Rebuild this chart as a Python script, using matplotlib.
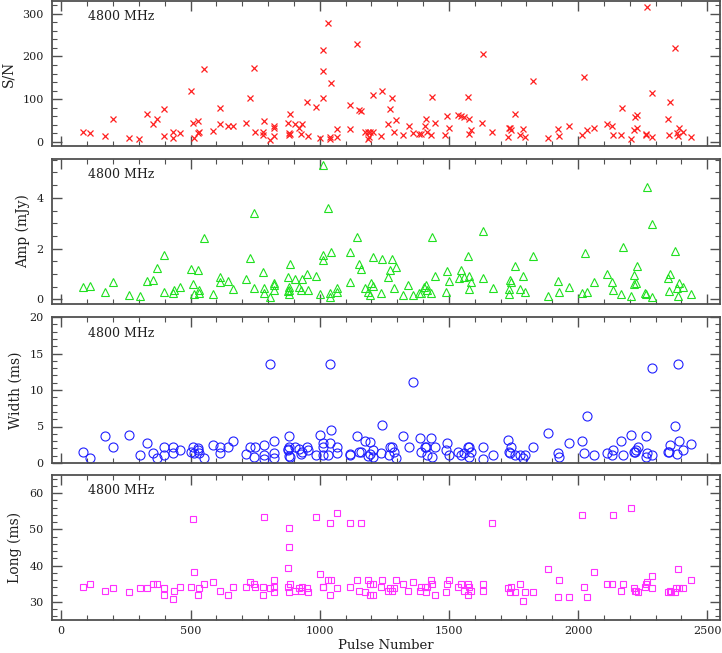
import matplotlib
matplotlib.use('Agg')
import matplotlib.pyplot as plt
from matplotlib.ticker import MultipleLocator

plt.rcParams['font.family'] = ['DejaVu Serif']

# S/N of each pulse
snr_pulse = [83, 111, 170, 199, 262, 302, 333, 355, 372, 396, 396, 432, 432, 461,
             501, 508, 514, 530, 529, 533, 552, 588, 616, 616, 647, 665, 714, 729,
             745, 750, 783, 782, 782, 807, 823, 825, 825, 876, 880, 881, 884, 884,
             906, 920, 932, 929, 949, 954, 986, 1003, 1011, 1011, 1011, 1031, 1043,
             1039, 1041, 1067, 1066, 1118, 1119, 1146, 1152, 1158,
             1177, 1187, 1196, 1205, 1190, 1187, 1205,
             1239, 1241, 1266, 1272, 1280, 1289, 1295, 1324, 1344, 1360, 1385, 1391,
             1407, 1411, 1415, 1431, 1436, 1445, 1485, 1492, 1500, 1537, 1545, 1558,
             1576, 1575, 1576, 1587, 1630, 1627, 1667, 1730, 1732, 1737, 1739, 1754,
             1775, 1786, 1794, 1825, 1883, 1921, 1927, 1964, 2016, 2022, 2035, 2061,
             2110, 2132, 2136, 2164, 2171, 2205, 2217, 2220, 2226, 2229, 2261, 2264,
             2265, 2284, 2286, 2347, 2353, 2355, 2373, 2384, 2386, 2391, 2404, 2435]
snr = [24, 21, 12.5, 53, 8.6, 6, 64, 41, 53, 77, 13, 23, 9, 21,
       119, 45, 9, 48, 20, 23, 170, 26, 80, 41, 36, 36, 44, 103,
       172, 24, 48, 22, 16, 5, 36, 32, 12.5, 45, 20, 15, 65, 19,
       41, 32, 41, 19, 93, 13, 82, 8, 216, 166, 102, 278, 137,
       10, 7, 30, 12, 30, 86, 230, 75, 73,
       24, 24, 24, 24, 11, 6, 110,
       12.5, 120, 42, 77, 103, 24, 52, 15, 36, 20, 19, 19,
       36, 53, 23, 16, 105, 45, 15, 60, 33, 63, 60, 57,
       54, 106, 19, 28, 205, 44, 24, 11, 32, 32, 27, 64,
       16, 30, 11, 143, 9, 29, 12.5, 36, 16, 151, 27, 32,
       42, 38, 15, 16, 78, 6, 28, 58, 63, 33, 18, 15,
       316, 11, 114, 53, 15, 94, 220, 20, 12.5, 32, 23, 10]

# peak amplitude (mJy)
amp_pulse = [83, 112, 170, 199, 262, 305, 333, 355, 372, 396, 396, 431, 435, 461,
             501, 508, 514, 530, 532, 533, 552, 588, 616, 614, 647, 665, 714, 729,
             745, 747, 782, 783, 783, 807, 823, 825, 825, 876, 876, 880, 881, 884,
             883, 906, 920, 932, 929, 949, 954, 986, 1003, 1011, 1011, 1011, 1031,
             1043, 1039, 1041, 1067, 1066, 1118, 1119, 1146, 1152, 1158,
             1177, 1186, 1194, 1198, 1207, 1208,
             1239, 1241, 1266, 1272, 1279, 1289, 1295, 1324, 1342, 1360, 1385, 1391,
             1405, 1410, 1416, 1431, 1435, 1447, 1487, 1492, 1501, 1538, 1546, 1559,
             1577, 1575, 1576, 1587, 1631, 1630, 1669, 1731, 1733, 1736, 1741, 1754,
             1776, 1787, 1794, 1825, 1883, 1922, 1927, 1964, 2014, 2025, 2035, 2063,
             2110, 2132, 2135, 2164, 2172, 2205, 2218, 2218, 2223, 2228, 2260, 2263,
             2265, 2284, 2286, 2347, 2353, 2357, 2375, 2384, 2386, 2390, 2404, 2435]
amp = [0.47, 0.51, 0.29, 0.68, 0.16, 0.14, 0.71, 0.75, 1.22, 1.73, 0.28, 0.26, 0.39, 0.50,
       1.21, 0.62, 0.20, 1.15, 0.25, 0.39, 2.43, 0.21, 0.87, 0.67, 0.72, 0.43, 0.80, 1.63,
       3.42, 0.46, 1.08, 0.46, 0.24, 0.09, 0.63, 0.56, 0.37, 0.87, 0.33, 0.21, 0.47, 1.39,
       0.39, 0.79, 0.50, 0.80, 0.37, 1.00, 0.37, 0.94, 0.21, 5.31, 1.76, 1.55, 3.59,
       1.85, 0.26, 0.09, 0.46, 0.28, 0.67, 1.85, 2.45, 1.38, 1.18,
       0.45, 0.28, 0.17, 0.66, 0.52, 1.68,
       0.25, 1.59, 0.90, 1.14, 1.61, 0.45, 1.27, 0.16, 0.56, 0.16, 0.26, 0.26,
       0.50, 0.56, 0.39, 0.25, 2.45, 0.93, 0.28, 1.10, 0.72, 0.85, 1.15, 0.89,
       0.94, 1.70, 0.42, 0.68, 2.69, 0.84, 0.46, 0.21, 0.43, 0.76, 0.68, 1.31,
       0.41, 0.94, 0.29, 1.70, 0.13, 0.72, 0.28, 0.47, 0.25, 1.84, 0.28, 0.67,
       1.00, 0.67, 0.37, 0.22, 2.05, 0.13, 0.96, 0.60, 0.66, 1.30, 0.26, 0.20,
       4.42, 0.10, 2.98, 0.83, 0.35, 1.00, 1.89, 0.45, 0.13, 0.63, 0.47, 0.21]

# pulse width (ms)
width_pulse = [83, 112, 170, 199, 262, 305, 333, 355, 372, 396, 396, 432, 432, 461,
               501, 508, 514, 530, 530, 533, 552, 588, 616, 616, 647, 665, 714, 729,
               750, 745, 783, 783, 783, 807, 825, 823, 823, 876, 876, 881, 881, 881,
               885, 906, 920, 932, 929, 949, 954, 986, 1003, 1011, 1011, 1013, 1031,
               1039, 1043, 1039, 1067, 1066, 1118, 1119, 1146, 1152, 1158,
               1177, 1194, 1186, 1196, 1207, 1205,
               1240, 1239, 1267, 1272, 1280, 1289, 1295, 1324, 1344, 1360, 1388, 1391,
               1407, 1411, 1417, 1431, 1436, 1445, 1487, 1491, 1501, 1537, 1545, 1560,
               1573, 1578, 1576, 1587, 1630, 1630, 1669, 1729, 1736, 1733, 1740, 1755,
               1776, 1787, 1795, 1825, 1884, 1921, 1927, 1966, 2016, 2024, 2035, 2063,
               2110, 2132, 2136, 2164, 2172, 2205, 2216, 2220, 2225, 2230, 2261, 2265,
               2263, 2284, 2287, 2346, 2350, 2357, 2373, 2382, 2386, 2390, 2404, 2435]
width = [1.47, 0.69, 3.64, 2.21, 3.82, 1.11, 2.72, 1.34, 0.69, 2.21, 1.11, 2.21, 1.34, 1.80,
         1.47, 2.21, 1.34, 2.12, 1.75, 1.34, 0.69, 2.53, 2.21, 1.43, 2.21, 2.95, 1.20, 2.21,
         2.21, 0.83, 2.53, 1.11, 0.60, 13.5, 2.95, 1.34, 0.65, 1.94, 1.75, 3.64, 2.21, 0.92,
         0.88, 2.21, 1.89, 1.57, 1.24, 2.21, 1.84, 1.11, 3.82, 2.76, 2.21, 1.11, 1.11,
         13.5, 4.52, 2.72, 2.21, 1.34, 1.20, 1.11, 3.64, 1.57, 1.47,
         2.95, 2.86, 0.92, 1.24, 1.80, 0.88,
         5.2, 1.34, 1.11, 2.21, 2.21, 1.57, 0.69, 3.64, 2.21, 11.1, 3.36, 1.57,
         2.21, 2.21, 1.15, 3.46, 0.88, 2.21, 1.75, 2.72, 1.11, 1.57, 1.11, 1.34,
         2.21, 2.21, 0.83, 1.47, 0.51, 2.21, 1.11, 3.13, 1.43, 1.47, 2.21, 1.11,
         1.11, 0.69, 1.11, 2.21, 4.10, 1.34, 0.88, 2.72, 2.95, 1.34, 6.45, 1.11,
         1.34, 1.11, 1.84, 2.95, 1.11, 3.82, 1.52, 1.57, 1.75, 2.21, 3.64, 1.34,
         0.88, 13.0, 1.11, 1.52, 1.52, 2.53, 5.02, 1.24, 13.5, 2.95, 1.80, 2.63]

# long component duration (ms)
long_pulse = [83, 112, 170, 199, 262, 305, 333, 355, 372, 396, 399, 432, 435, 461,
              501, 510, 514, 529, 533, 552, 588, 616, 647, 665, 714, 729, 745, 750,
              783, 782, 782, 807, 823, 825, 825, 876, 876, 881, 883, 884, 881,
              906, 920, 932, 929, 949, 954, 986, 1003, 1011, 1013, 1031, 1043,
              1039, 1039, 1067, 1066, 1118, 1119, 1146, 1152, 1158,
              1177, 1186, 1194, 1207, 1194, 1207,
              1239, 1241, 1266, 1272, 1280, 1289, 1295, 1324, 1342, 1360, 1388, 1391,
              1407, 1411, 1417, 1431, 1436, 1447, 1487, 1492, 1501, 1537, 1546, 1559,
              1573, 1577, 1575, 1587, 1630, 1631, 1667, 1730, 1736, 1740, 1754, 1776,
              1786, 1794, 1825, 1884, 1922, 1927, 1966, 2016, 2024, 2035, 2063,
              2110, 2132, 2136, 2164, 2172, 2205, 2216, 2220, 2225, 2230, 2260, 2264,
              2265, 2284, 2287, 2347, 2355, 2360, 2375, 2380, 2386, 2392, 2404, 2435]
long_ms = [34.1, 34.8, 33.1, 33.7, 32.6, 33.7, 33.7, 34.8, 34.8, 33.7, 31.9, 30.7, 33.1, 34.1,
           34.1, 52.8, 38.2, 31.9, 33.7, 34.8, 35.4, 33.1, 31.9, 34.1, 34.1, 35.4, 34.8, 34.1,
           53.4, 34.1, 31.9, 33.7, 35.9, 34.1, 32.6, 39.3, 34.1, 50.5, 45.2, 34.8, 32.6,
           33.1, 33.7, 34.1, 33.1, 33.7, 32.6, 53.4, 37.7, 34.1, 34.1, 35.9, 35.9,
           51.7, 31.9, 33.7, 54.5, 51.7, 34.1, 35.9, 33.1, 51.7,
           32.6, 35.9, 34.8, 34.8, 31.9, 31.9,
           34.1, 35.9, 33.1, 33.7, 33.1, 33.7, 35.9, 34.8, 33.1, 35.4, 33.1, 34.1,
           34.1, 32.6, 34.1, 35.9, 34.8, 31.9, 32.6, 34.8, 35.9, 34.1, 34.8, 33.1,
           34.8, 34.1, 31.9, 33.1, 34.8, 33.1, 51.7, 33.7, 32.6, 34.1, 32.6, 34.8,
           30.3, 32.6, 32.6, 39.0, 31.3, 36.0, 31.3, 54.0, 34.1, 31.3, 38.2,
           34.8, 34.8, 54.0, 33.1, 34.8, 55.8, 33.7, 33.1, 33.1, 32.6, 34.1, 34.8,
           35.4, 37.1, 33.7, 32.6, 33.1, 32.6, 32.6, 33.7, 39.0, 33.7, 33.7, 35.9]

freq_label = '4800 MHz'

fig = plt.figure(figsize=(7.22, 6.53), dpi=100)

frame = '#505050'
ink = '#202020'
left, width_ax = 52 / 722, 668 / 722
# (top px, bottom px) of each panel
rows = [(1, 146), (159, 304), (317, 463), (475, 620)]

panels = [
    (snr_pulse, snr, 'x', '#ff2020', 'S/N', (-10, 330), 100, 20),
    (amp_pulse, amp, '^', '#20e020', 'Amp (mJy)', (-0.18, 5.53), 2, 0.5),
    (width_pulse, width, 'o', '#2020ff', 'Width (ms)', (0, 20), 5, 1),
    (long_pulse, long_ms, 's', '#ff30ff', 'Long (ms)', (25, 65), 10, 2),
]

for i, (xs, ys, mk, col, lab, ylim, major, minor) in enumerate(panels):
    top, bot = rows[i]
    ax = fig.add_axes([left, 1 - bot / 653, width_ax, (bot - top) / 653])
    if mk == 'x':
        ax.plot(xs, ys, ls='none', marker=mk, ms=5, mew=0.9, color=col)
    else:
        size = {'^': 6, 'o': 6.5, 's': 5}[mk]
        ax.plot(xs, ys, ls='none', marker=mk, ms=size, mew=0.8,
                mfc='none', mec=col)
    ax.set_xlim(-36, 2549)
    ax.set_ylim(*ylim)
    ax.xaxis.set_major_locator(MultipleLocator(500))
    ax.xaxis.set_minor_locator(MultipleLocator(100))
    ax.yaxis.set_major_locator(MultipleLocator(major))
    ax.yaxis.set_minor_locator(MultipleLocator(minor))
    ax.tick_params(which='both', direction='in', top=True, right=True,
                   color=frame, labelsize=8, labelcolor=ink)
    ax.tick_params(which='major', length=7, width=1.0)
    ax.tick_params(which='minor', length=3.5, width=0.8)
    ax.tick_params(axis='y', which='major', pad=6)
    ax.tick_params(axis='x', which='major', pad=4.5)
    for sp in ax.spines.values():
        sp.set_color(frame)
        sp.set_linewidth(1.3)
    ax.set_ylabel(lab, fontsize=10, color=ink, labelpad=5)
    ax.text(0.054, 0.89, freq_label, transform=ax.transAxes, fontsize=9,
            va='center', ha='left', color=ink)
    if i < 3:
        ax.set_xticklabels([])
    else:
        ax.set_xlabel('Pulse Number', fontsize=9.5, color=ink, labelpad=2)

fig.savefig('out.png', dpi=100)
